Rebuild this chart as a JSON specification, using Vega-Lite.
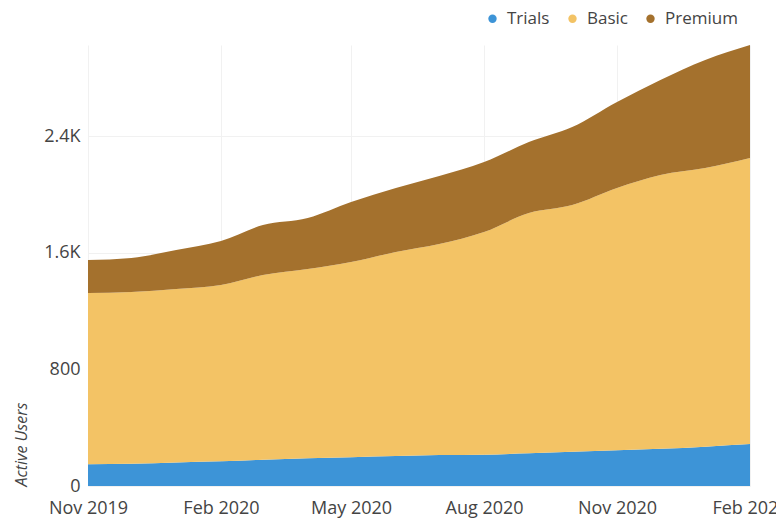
{
  "$schema": "https://vega.github.io/schema/vega-lite/v6.json",
  "autosize": {"type": "none"},
  "width": 662,
  "height": 441,
  "padding": {"left": 88, "top": 45, "right": 26, "bottom": 34},
  "background": "#ffffff",
  "config": {
    "font": "Open Sans",
    "view": {"stroke": null},
    "axis": {"labelColor": "#444444", "titleColor": "#444444"}
  },
  "data": {
    "values": [
      {"month": "2019-11-01", "plan": "Trials", "users": 150},
      {"month": "2019-12-01", "plan": "Trials", "users": 153},
      {"month": "2020-01-01", "plan": "Trials", "users": 162},
      {"month": "2020-02-01", "plan": "Trials", "users": 170},
      {"month": "2020-03-01", "plan": "Trials", "users": 180},
      {"month": "2020-04-01", "plan": "Trials", "users": 190},
      {"month": "2020-05-01", "plan": "Trials", "users": 198},
      {"month": "2020-06-01", "plan": "Trials", "users": 205},
      {"month": "2020-07-01", "plan": "Trials", "users": 212},
      {"month": "2020-08-01", "plan": "Trials", "users": 215},
      {"month": "2020-09-01", "plan": "Trials", "users": 225},
      {"month": "2020-10-01", "plan": "Trials", "users": 235},
      {"month": "2020-11-01", "plan": "Trials", "users": 245},
      {"month": "2020-12-01", "plan": "Trials", "users": 255},
      {"month": "2021-01-01", "plan": "Trials", "users": 270},
      {"month": "2021-02-01", "plan": "Trials", "users": 288},
      {"month": "2019-11-01", "plan": "Basic", "users": 1174},
      {"month": "2019-12-01", "plan": "Basic", "users": 1178},
      {"month": "2020-01-01", "plan": "Basic", "users": 1189},
      {"month": "2020-02-01", "plan": "Basic", "users": 1209},
      {"month": "2020-03-01", "plan": "Basic", "users": 1267},
      {"month": "2020-04-01", "plan": "Basic", "users": 1298},
      {"month": "2020-05-01", "plan": "Basic", "users": 1338},
      {"month": "2020-06-01", "plan": "Basic", "users": 1400},
      {"month": "2020-07-01", "plan": "Basic", "users": 1448},
      {"month": "2020-08-01", "plan": "Basic", "users": 1527},
      {"month": "2020-09-01", "plan": "Basic", "users": 1647},
      {"month": "2020-10-01", "plan": "Basic", "users": 1692},
      {"month": "2020-11-01", "plan": "Basic", "users": 1799},
      {"month": "2020-12-01", "plan": "Basic", "users": 1878},
      {"month": "2021-01-01", "plan": "Basic", "users": 1911},
      {"month": "2021-02-01", "plan": "Basic", "users": 1962},
      {"month": "2019-11-01", "plan": "Premium", "users": 226},
      {"month": "2019-12-01", "plan": "Premium", "users": 233},
      {"month": "2020-01-01", "plan": "Premium", "users": 268},
      {"month": "2020-02-01", "plan": "Premium", "users": 301},
      {"month": "2020-03-01", "plan": "Premium", "users": 343},
      {"month": "2020-04-01", "plan": "Premium", "users": 350},
      {"month": "2020-05-01", "plan": "Premium", "users": 412},
      {"month": "2020-06-01", "plan": "Premium", "users": 439},
      {"month": "2020-07-01", "plan": "Premium", "users": 466},
      {"month": "2020-08-01", "plan": "Premium", "users": 480},
      {"month": "2020-09-01", "plan": "Premium", "users": 487},
      {"month": "2020-10-01", "plan": "Premium", "users": 535},
      {"month": "2020-11-01", "plan": "Premium", "users": 590},
      {"month": "2020-12-01", "plan": "Premium", "users": 652},
      {"month": "2021-01-01", "plan": "Premium", "users": 741},
      {"month": "2021-02-01", "plan": "Premium", "users": 775}
    ]
  },
  "transform": [
    {"calculate": "indexof(['Trials', 'Basic', 'Premium'], datum.plan)", "as": "stackOrder"}
  ],
  "mark": {"type": "area", "interpolate": "monotone"},
  "encoding": {
    "x": {
      "field": "month",
      "type": "temporal",
      "scale": {"type": "utc", "nice": false},
      "axis": {
        "title": null,
        "format": "%b %Y",
        "values": [
          {"year": 2019, "month": 11, "date": 1, "utc": true},
          {"year": 2020, "month": 2, "date": 1, "utc": true},
          {"year": 2020, "month": 5, "date": 1, "utc": true},
          {"year": 2020, "month": 8, "date": 1, "utc": true},
          {"year": 2020, "month": 11, "date": 1, "utc": true},
          {"year": 2021, "month": 2, "date": 1, "utc": true}
        ],
        "domain": false,
        "ticks": false,
        "grid": true,
        "gridColor": "#f1f1f1",
        "labelFontSize": 18,
        "labelPadding": 13,
        "labelOverlap": false,
        "labelBound": false,
        "labelFlush": false
      }
    },
    "y": {
      "field": "users",
      "type": "quantitative",
      "stack": "zero",
      "scale": {"nice": false, "zero": true},
      "axis": {
        "title": "Active Users",
        "titleFontStyle": "italic",
        "titleFontWeight": "normal",
        "titleFontSize": 16,
        "titleAnchor": "start",
        "titlePadding": 14,
        "values": [0, 800, 1600, 2400],
        "labelExpr": "datum.value >= 1000 ? format(datum.value / 1000, '.1f') + 'K' : format(datum.value, 'd')",
        "domain": false,
        "ticks": false,
        "grid": true,
        "gridColor": "#f1f1f1",
        "labelFontSize": 18,
        "labelPadding": 8
      }
    },
    "color": {
      "field": "plan",
      "type": "nominal",
      "scale": {
        "domain": ["Trials", "Basic", "Premium"],
        "range": ["#3d94d7", "#f3c365", "#a4712d"]
      },
      "legend": {
        "title": null,
        "orient": "none",
        "direction": "horizontal",
        "legendX": 396,
        "legendY": -35,
        "symbolType": "circle",
        "symbolSize": 70,
        "labelFontSize": 17,
        "labelColor": "#444444",
        "columnPadding": 14,
        "labelOffset": 6
      }
    },
    "order": {"field": "stackOrder", "type": "quantitative"}
  }
}
